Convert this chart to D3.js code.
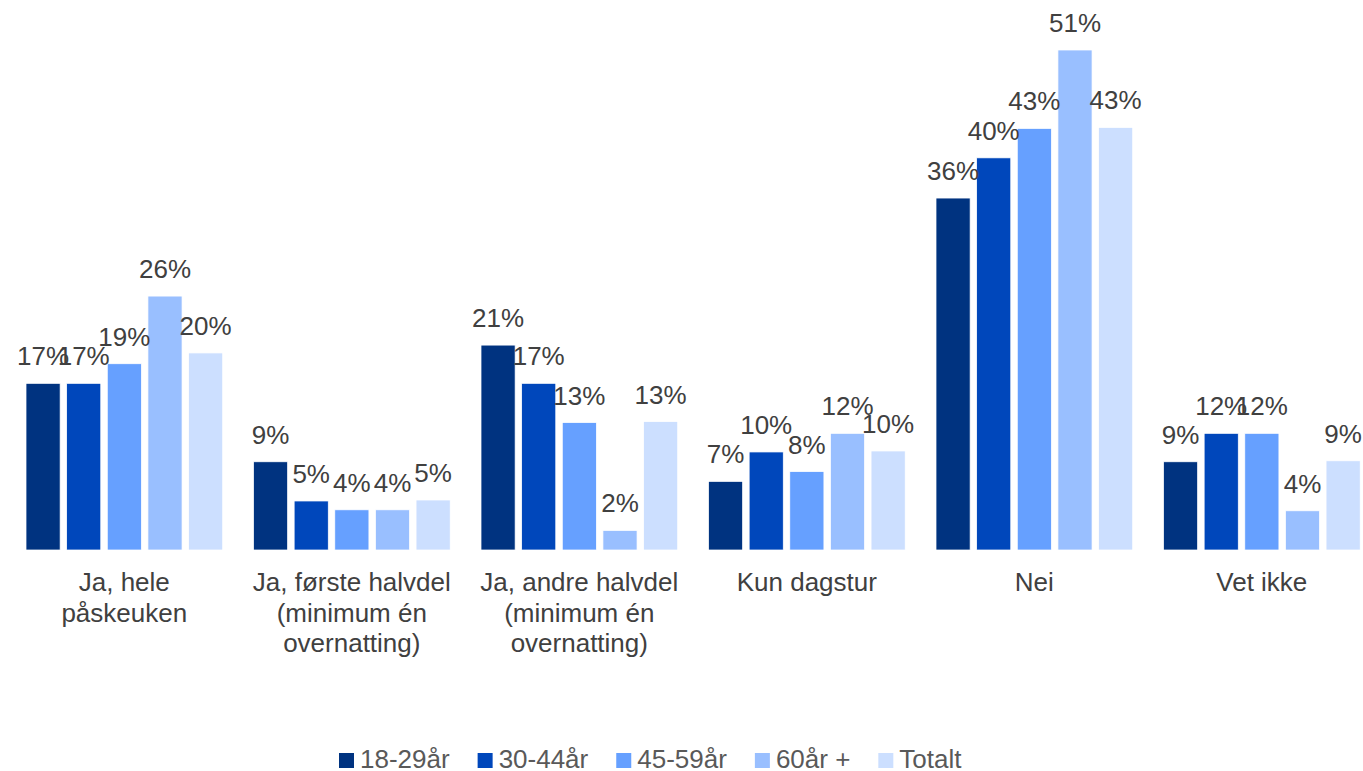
<!DOCTYPE html>
<html>
<head>
<meta charset="utf-8">
<script src="https://cdn.jsdelivr.net/npm/d3@7"></script>
<style>
  html, body { margin: 0; padding: 0; background: #ffffff; }
  svg { display: block; font-family: "Liberation Sans", Arial, sans-serif; }
</style>
</head>
<body>
<svg id="chart" width="1363" height="771"></svg>
<script>
const categories = [
  ["Ja, hele", "påskeuken"],
  ["Ja, første halvdel", "(minimum én", "overnatting)"],
  ["Ja, andre halvdel", "(minimum én", "overnatting)"],
  ["Kun dagstur"],
  ["Nei"],
  ["Vet ikke"]
];
const seriesNames = ["18-29år", "30-44år", "45-59år", "60år +", "Totalt"];
const s18_29 = [17.0, 9.0, 20.9, 7.0, 35.9, 9.0];
const s30_44 = [17.0, 5.0, 17.0, 10.0, 40.0, 11.9];
const s45_59 = [19.0, 4.1, 13.0, 8.0, 43.0, 11.9];
const s60 = [25.9, 4.1, 2.0, 11.9, 51.0, 4.0];
const sTotalt = [20.1, 5.1, 13.1, 10.1, 43.1, 9.1];
const seriesValues = [s18_29, s30_44, s45_59, s60, sTotalt];
const colors = ["#003380", "#0047BB", "#66A0FF", "#99BFFF", "#CCDFFF"];

const svg = d3.select("#chart");
const baseY = 550;
const x0 = d3.scaleBand().domain(d3.range(categories.length)).range([10.55, 1375.55]).padding(0);
const x1 = d3.scaleBand().domain(d3.range(seriesNames.length)).range([15.45, 212.15]).paddingInner(0.16).paddingOuter(0);
const y = d3.scaleLinear().domain([0, 51]).range([baseY, 50]);

const groups = svg.selectAll("g.grp").data(categories).join("g")
  .attr("class", "grp")
  .attr("transform", (d, i) => `translate(${x0(i)},0)`);

groups.each(function(cat, ci) {
  const g = d3.select(this);
  const rows = seriesValues.map((arr, si) => ({ si, v: arr[ci] }));
  g.selectAll("rect").data(rows).join("rect")
    .attr("x", d => x1(d.si))
    .attr("y", d => y(d.v))
    .attr("width", x1.bandwidth())
    .attr("height", d => baseY - y(d.v))
    .attr("fill", d => colors[d.si])
    .attr("stroke", "#ffffff")
    .attr("stroke-width", 0.75);
  g.selectAll("text.lbl").data(rows).join("text")
    .attr("class", "lbl")
    .attr("x", d => x1(d.si) + x1.bandwidth() / 2)
    .attr("y", d => y(d.v) - 18)
    .attr("text-anchor", "middle")
    .attr("font-size", 26)
    .attr("fill", "#404040")
    .text(d => Math.round(d.v) + "%");
  const t = g.append("text")
    .attr("x", x0.bandwidth() / 2)
    .attr("y", 591)
    .attr("text-anchor", "middle")
    .attr("font-size", 26)
    .attr("fill", "#404040");
  cat.forEach((line, li) => {
    t.append("tspan").attr("x", x0.bandwidth() / 2).attr("y", 591 + li * 30.5).text(line);
  });
});

// Legend
const legend = svg.append("g");
let lx = 339;
seriesNames.forEach((name, i) => {
  legend.append("rect").attr("x", lx).attr("y", 753).attr("width", 15).attr("height", 15).attr("fill", colors[i]);
  const tx = legend.append("text").attr("x", lx + 21).attr("y", 768)
    .attr("font-size", 26).attr("fill", "#595959").text(name);
  const w = tx.node().getComputedTextLength();
  lx += 21 + w + 28;
});
</script>
</body>
</html>
